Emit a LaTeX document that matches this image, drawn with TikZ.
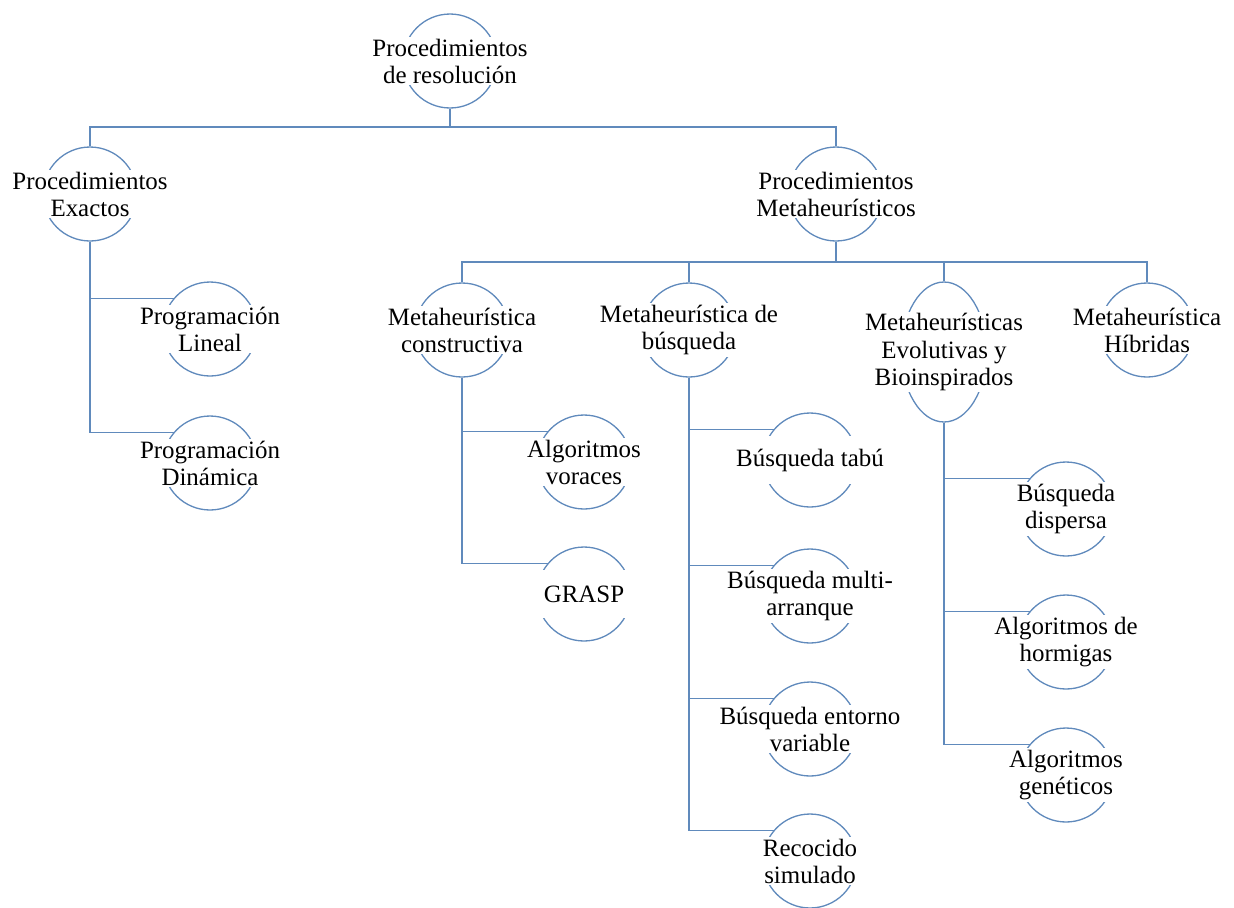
\documentclass[tikz,border=0pt]{standalone}
\usepackage{fontspec}
\setmainfont{Liberation Serif}
\usetikzlibrary{shapes.geometric}
\definecolor{linecol}{RGB}{96,138,188}
\tikzset{
  topic/.style={circle, draw=linecol, line width=0.75pt, minimum size=1.88cm, inner sep=0pt},
  tall/.style={ellipse, draw=linecol, line width=0.75pt, minimum width=1.7cm, minimum height=2.8cm, inner sep=0pt},
  txt/.style={fill=white, align=center, inner sep=1pt, minimum width=1.95cm, minimum height=0.95cm,
    font=\fontsize{14.2}{15.4}\selectfont},
  link/.style={draw=linecol, line width=0.75pt}
}
\begin{document}
\begin{tikzpicture}[x=0.02cm, y=-0.02cm]
  \useasboundingbox (0,0) rectangle (1234,907);
  % root and first level
  \node[topic, label={[txt]center:{Procedimientos\\de resolución}}] (res) at (450,61) {};
  \node[topic, label={[txt]center:{Procedimientos\\Exactos}}] (exa) at (90,194) {};
  \node[topic, label={[txt]center:{Procedimientos\\Metaheurísticos}}] (met) at (836,194) {};
  % exact methods
  \node[topic, label={[txt]center:{Programación\\Lineal}}] (lin) at (210,329) {};
  \node[topic, label={[txt]center:{Programación\\Dinámica}}] (din) at (210,463) {};
  % metaheuristic families
  \node[topic, label={[txt]center:{Metaheurística\\constructiva}}] (con) at (462,330) {};
  \node[topic, label={[txt]center:{Metaheurística de\\búsqueda}}] (bus) at (689,330) {};
  \node[tall, label={[txt]center:{Metaheurísticas\\Evolutivas y\\Bioinspirados}}] (evo) at (944,352) {};
  \node[topic, label={[txt]center:{Metaheurística\\Híbridas}}] (hib) at (1147,330) {};
  % constructive
  \node[topic, label={[txt]center:{Algoritmos\\voraces}}] (vor) at (584,462) {};
  \node[topic, label={[txt]center:{GRASP}}] (gra) at (584,594) {};
  % search
  \node[topic, label={[txt]center:{Búsqueda tabú}}] (tab) at (810,460) {};
  \node[topic, label={[txt]center:{Búsqueda multi-\\arranque}}] (mul) at (810,596) {};
  \node[topic, label={[txt]center:{Búsqueda entorno\\variable}}] (ent) at (810,729) {};
  \node[topic, label={[txt]center:{Recocido\\simulado}}] (rec) at (810,861) {};
  % evolutive
  \node[topic, label={[txt]center:{Búsqueda\\dispersa}}] (dis) at (1066,509) {};
  \node[topic, label={[txt]center:{Algoritmos de\\hormigas}}] (hor) at (1066,642) {};
  \node[topic, label={[txt]center:{Algoritmos\\genéticos}}] (gen) at (1066,775) {};
  % buses
  \coordinate (b1) at (450,127);
  \coordinate (b2) at (836,262);
  \draw[link] (res.south) -- (b1);
  \draw[link] (exa.north) |- (b1) -| (met.north);
  \draw[link] (met.south) -- (b2);
  \draw[link] (con.north) |- (b2) -| (hib.north);
  \draw[link] (bus.north) -- (bus.north |- b2);
  \draw[link] (evo.north) -- (evo.north |- b2);
  % branches
  \foreach \p/\c in {exa/lin, exa/din, con/vor, con/gra, bus/tab, bus/mul, bus/ent, bus/rec, evo/dis, evo/hor, evo/gen}
    \draw[link] (\p.south) |- (\c.140);
\end{tikzpicture}
\end{document}
